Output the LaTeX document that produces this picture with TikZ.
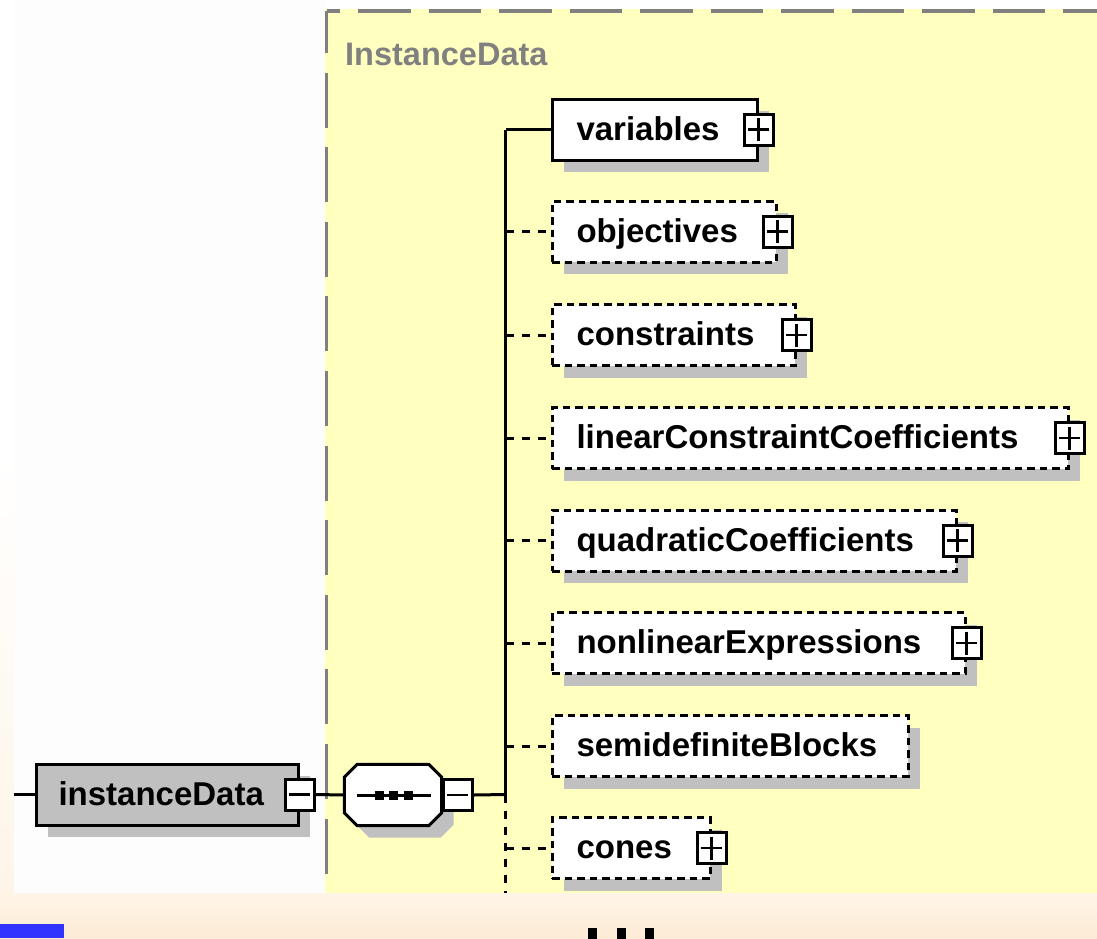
\documentclass[tikz,border=0pt]{standalone}
\usepackage{fontspec}
\setmainfont{Liberation Sans}
\usetikzlibrary{positioning,shadows}
\definecolor{panel}{HTML}{FFFFC0}
\definecolor{framegray}{HTML}{808080}
\definecolor{shadowgray}{HTML}{C0C0C0}
\definecolor{paper}{HTML}{FDFDFD}
\definecolor{peach}{HTML}{FDEBD5}
\definecolor{peachlight}{HTML}{FEF5E8}
\definecolor{slideblue}{HTML}{3333FF}
\newcommand\boxfont{\fontsize{33}{33}\selectfont\bfseries}
\newcommand\typefont{\fontsize{32.5}{32.5}\selectfont\bfseries}
\begin{document}
\begin{tikzpicture}[x=1pt, y=-1pt,
  boxshadow/.style={general shadow={fill=shadowgray, shadow xshift=12pt, shadow yshift=-12pt}},
  boxtext/.style={font=\boxfont, text height=24pt, text depth=3pt},
  elem/.style={boxtext, draw, fill=white, line width=3pt, anchor=west,
    minimum height=61pt, text width=#1, align=left, inner xsep=0pt, boxshadow},
  optelem/.style={elem=#1, dash pattern=on 7.5pt off 5pt},
  plusbox/.style={draw, fill=white, line width=3pt, minimum width=29pt,
    minimum height=31pt, inner sep=0pt,
    path picture={\draw[line width=2.5pt]
      ([xshift=4pt]path picture bounding box.west) -- ([xshift=-4pt]path picture bounding box.east)
      ([yshift=-4pt]path picture bounding box.north) -- ([yshift=4pt]path picture bounding box.south);}},
  minusbox/.style={draw, fill=white, line width=3pt, minimum width=29pt,
    minimum height=31pt, inner sep=0pt,
    path picture={\draw[line width=2.5pt]
      ([xshift=4pt]path picture bounding box.west) -- ([xshift=-4pt]path picture bounding box.east);}},
  seqbox/.style={minimum width=97pt, minimum height=61pt, inner sep=0pt},
  conn/.style={line width=3pt},
  optconn/.style={conn, dash pattern=on 8pt off 8pt},
  frameline/.style={framegray, line width=3.5pt}]
\useasboundingbox (0,0) rectangle (1097,938);
% background
\fill[white] (0,0) rectangle (1097,938);
\shade[top color=white, bottom color=peachlight] (0,450) rectangle (14,893);
\shade[top color=peachlight, bottom color=peach] (0,893) rectangle (1097,938);
\fill[paper] (14,0) rectangle (325,893);
\fill[panel] (325,9) rectangle (1097,893);
\fill[slideblue] (0,924) rectangle (64,938);
% complex type frame
\draw[frameline, dash pattern=on 52.5pt off 18pt, dash phase=39pt] (326.5,11) -- (1097,11);
\draw[frameline, dash pattern=on 55pt off 19.6pt, dash phase=13pt] (326.5,11) -- (326.5,893);
\node[anchor=base west, text=framegray, font=\typefont, inner sep=0pt] (typename) at (345,65) {InstanceData};
% root element and sequence
\node[elem=262pt, fill=shadowgray] (idata) at (34.5,794.5) {\hspace*{22.5pt}instanceData};
\node[minusbox] (idataminus) at (idata.east) {};
\node[seqbox] (seq) at (393,795) {};
\draw[line width=3pt, fill=white, boxshadow]
  ([xshift=13pt]seq.north west) -- ([xshift=-13pt]seq.north east)
  -- ([yshift=-13pt]seq.north east) -- ([yshift=13pt]seq.south east)
  -- ([xshift=-13pt]seq.south east) -- ([xshift=13pt]seq.south west)
  -- ([yshift=13pt]seq.south west) -- ([yshift=-13pt]seq.north west) -- cycle;
\node[minusbox, anchor=west] (seqminus) at (seq.east) {};
\draw[line width=3pt] ([xshift=-36pt]seq.center) -- ([xshift=38pt]seq.center);
\foreach \d in {-14,0,15}
  \fill ([xshift=\d pt]seq.center) +(-4.5,-4.5) rectangle +(4.5,4.5);
% children
\node[elem=205pt] (variables) at (550.5,129.5) {\hspace*{24.5pt}variables};
\node[optelem=224pt] (objectives) at (550.5,231.5) {\hspace*{24.5pt}objectives};
\node[optelem=243pt] (constraints) at (550.5,335) {\hspace*{24.5pt}constraints};
\node[optelem=516pt] (linear) at (550.5,438) {\hspace*{24.5pt}linearConstraintCoefficients};
\node[optelem=404pt] (quadratic) at (550.5,540.5) {\hspace*{24.5pt}quadraticCoefficients};
\node[optelem=413pt] (nonlinear) at (550.5,643) {\hspace*{24.5pt}nonlinearExpressions};
\node[optelem=356pt] (semidef) at (550.5,746) {\hspace*{24.5pt}semidefiniteBlocks};
\node[optelem=158pt] (cones) at (550.5,848) {\hspace*{24.5pt}cones};
\node[plusbox] (variablesplus) at (variables.east) {};
\node[plusbox] (objectivesplus) at (objectives.east) {};
\node[plusbox] (constraintsplus) at (constraints.east) {};
\node[plusbox] (linearplus) at (linear.east) {};
\node[plusbox] (quadraticplus) at (quadratic.east) {};
\node[plusbox] (nonlinearplus) at (nonlinear.east) {};
\node[plusbox] (conesplus) at (cones.east) {};
% connectors
\coordinate (entry) at (14,794.5);
\coordinate (trunk) at (505.5,794.5);
\coordinate (trunkend) at (505.5,893);
\draw[conn] (entry) -- (idata.west);
\draw[conn] (idataminus.east) -- (seq.west);
\draw[conn] (seqminus.east) -- (trunk);
\draw[conn] (trunk |- variables.west) -- ([yshift=-1.5pt]trunk);
\draw[optconn] (trunk) -- (trunkend);
\draw[conn] (trunk |- variables.west) -- (variables.west);
\foreach \c in {objectives,constraints,linear,quadratic,nonlinear,semidef,cones}
  \draw[optconn] (trunk |- \c.west) -- (\c.west);
% more below
\foreach \x in {592.5,621.5,649.5}
  \fill (\x-4.5,928) rectangle (\x+4.5,940);
\end{tikzpicture}
\end{document}
